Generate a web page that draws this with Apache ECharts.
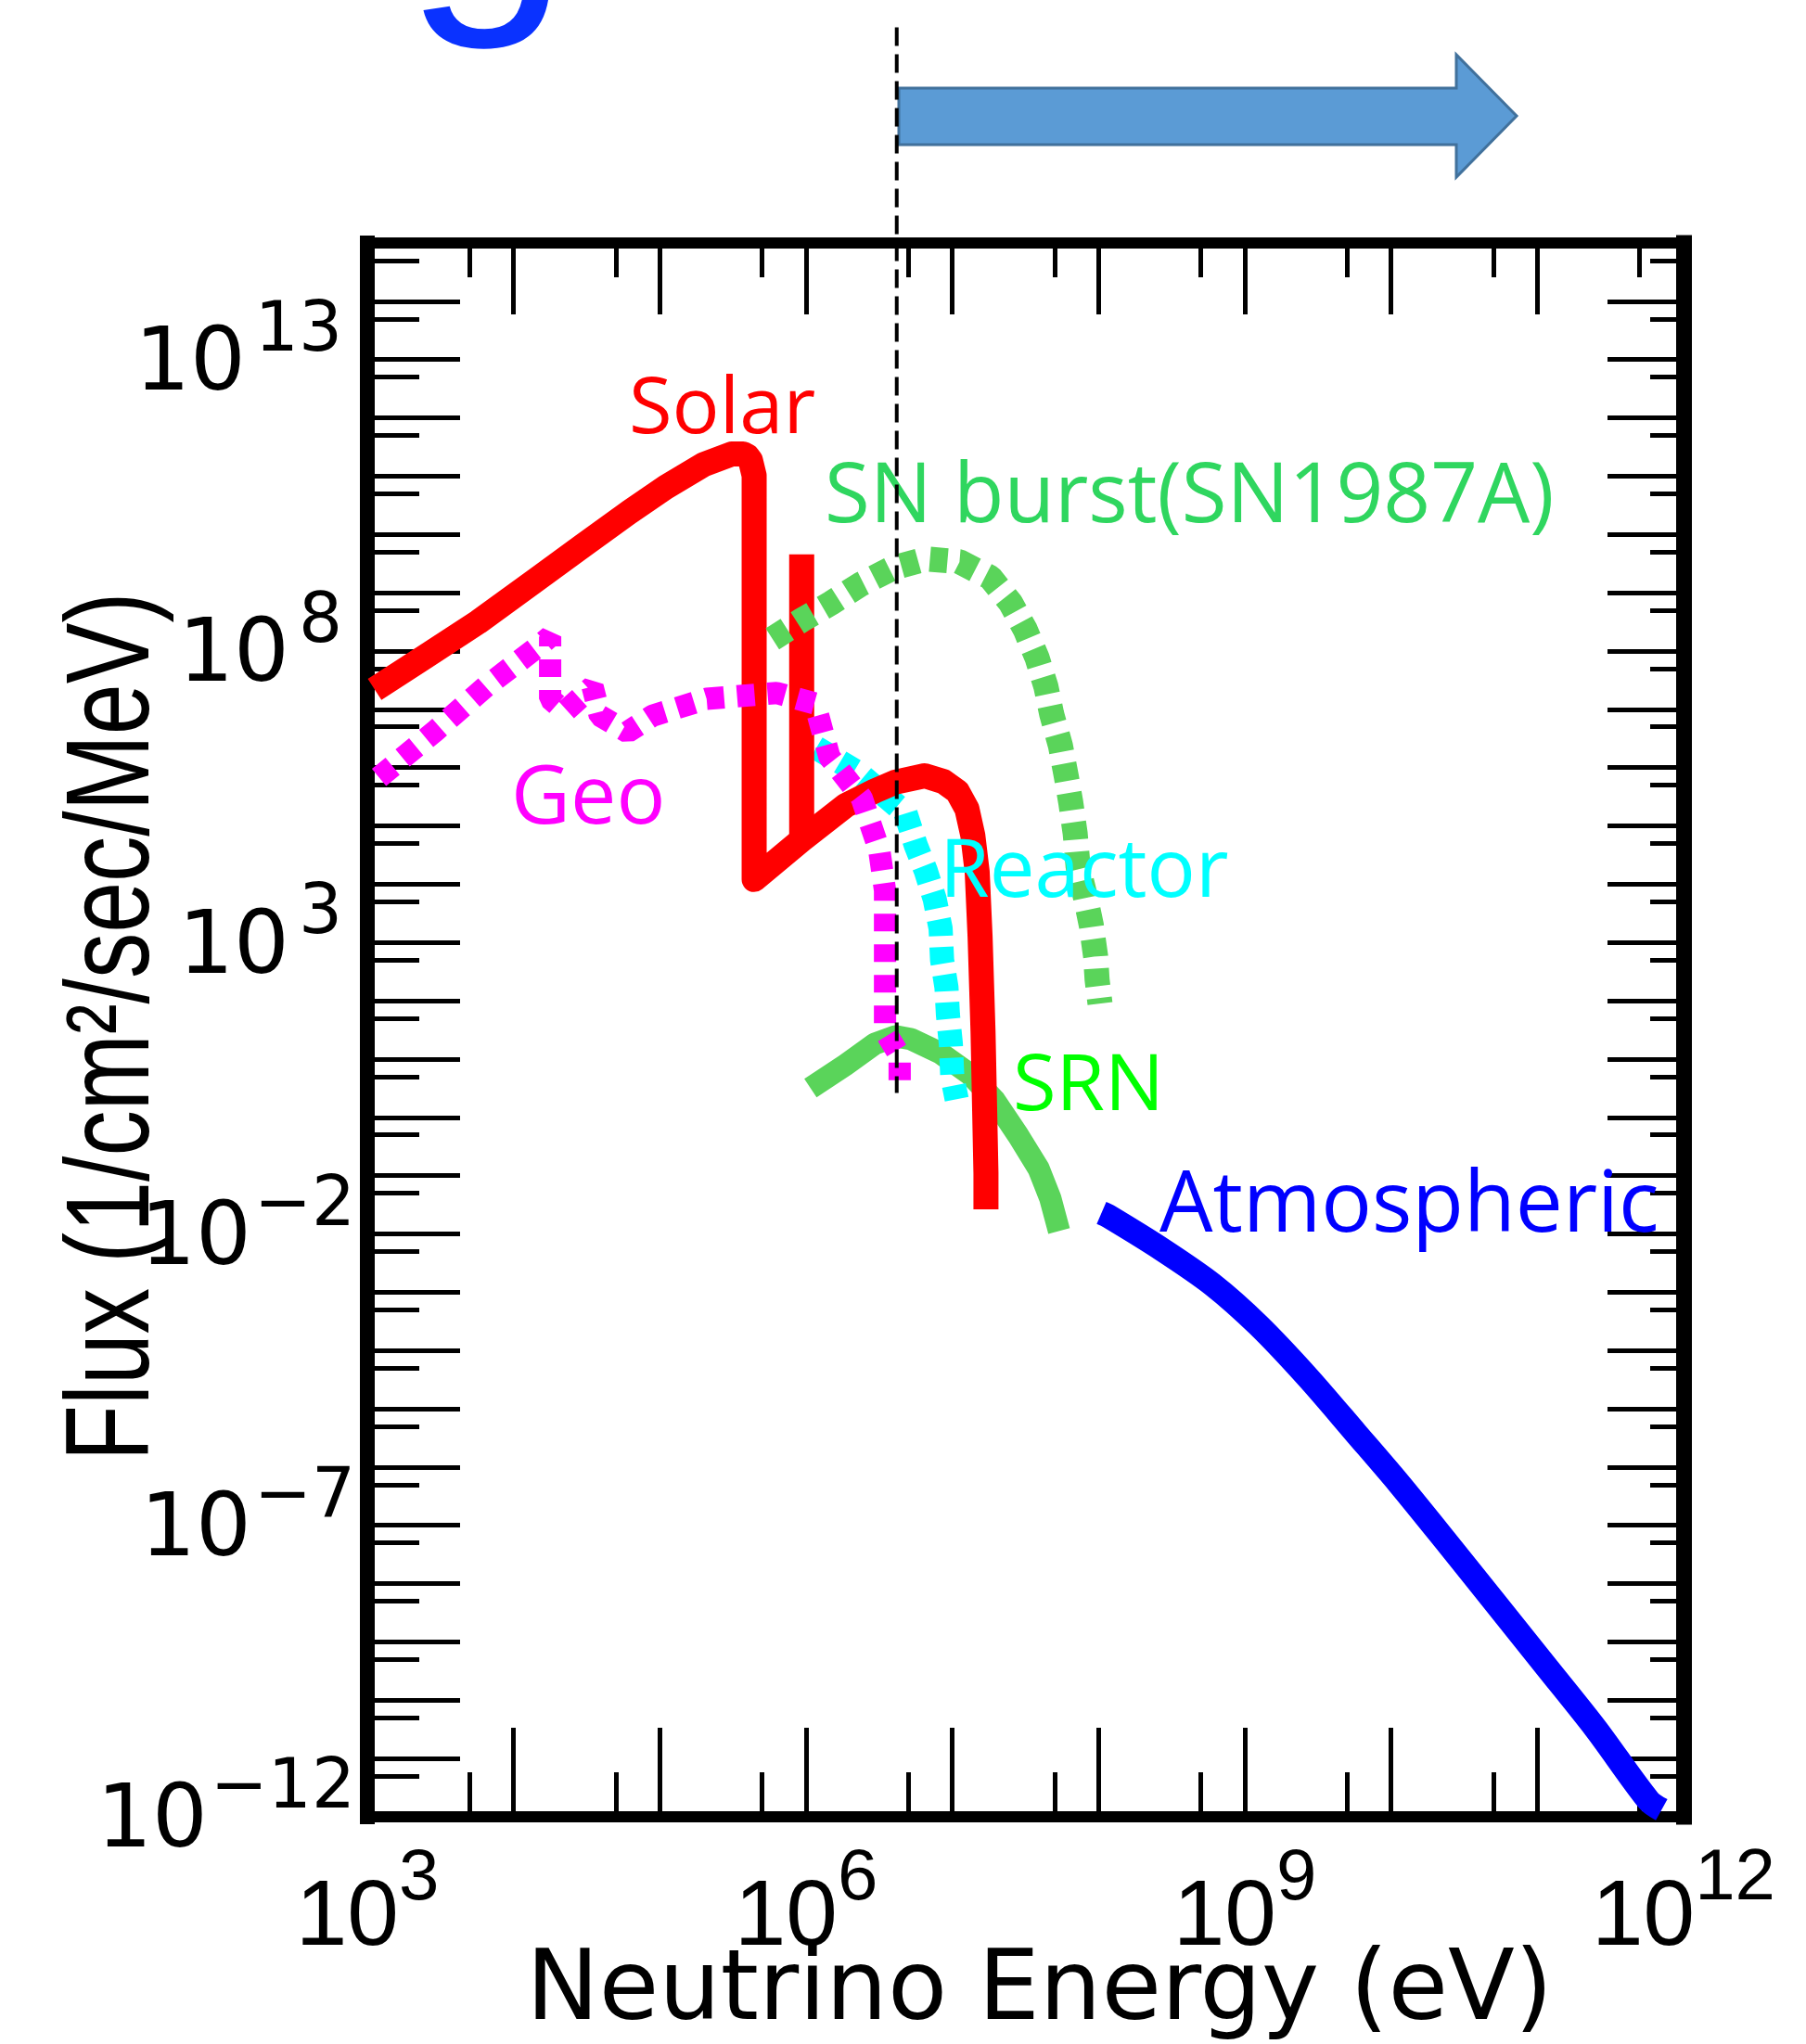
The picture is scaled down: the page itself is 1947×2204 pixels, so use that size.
<!DOCTYPE html>
<html>
<head>
<meta charset="utf-8">
<title>Neutrino flux vs energy</title>
<script src="https://cdn.jsdelivr.net/npm/echarts@6.0.0/dist/echarts.min.js"></script>
<style>
  html, body { margin: 0; padding: 0; background: #fff; }
  #chart { width: 1947px; height: 2204px; }
</style>
</head>
<body>
<div id="chart"></div>
<script>
// every value is a log10: energy in eV, flux in 1/cm2/sec/MeV
var solarE = [3.05, 3.40, 3.76, 4.16, 4.47, 4.79, 5.04, 5.30, 5.49, 5.57, 5.60, 5.62, 5.645, 5.645, 5.97, 6.27, 6.47, 6.61, 6.81, 6.94, 7.035, 7.10, 7.14, 7.17, 7.19, 7.21, 7.23, 7.23];
var solarF = [7.34, 7.91, 8.50, 9.23, 9.80, 10.38, 10.81, 11.20, 11.38, 11.38, 11.34, 11.27, 11.01, 4.08, 4.76, 5.35, 5.60, 5.75, 5.86, 5.76, 5.59, 5.29, 4.84, 4.21, 3.09, 1.47, -0.96, -1.58];
var pepE = [5.97, 5.97];
var pepF = [9.66, 4.76];
var geoE = [3.08, 3.47, 3.81, 4.18, 4.25, 4.25, 4.35, 4.54, 4.59, 4.78, 4.95, 5.32, 5.80, 6.06, 6.16, 6.38, 6.50, 6.54, 6.54, 6.64, 6.64];
var geoF = [5.83, 6.64, 7.39, 8.10, 8.25, 7.18, 6.96, 7.39, 6.89, 6.61, 6.89, 7.18, 7.28, 7.10, 6.18, 5.48, 4.59, 3.89, 1.47, 1.06, 0.42];
var reactorE = [6.07, 6.35, 6.68, 6.75, 6.82, 6.88, 6.92, 6.93, 6.96, 6.97, 6.99, 7.00, 7.03];
var reactorF = [6.34, 5.92, 5.22, 4.67, 4.22, 3.74, 3.24, 2.70, 2.23, 1.76, 1.26, 0.69, 0.31];
var snE = [5.77, 5.97, 6.17, 6.37, 6.59, 6.82, 7.05, 7.26, 7.40, 7.50, 7.58, 7.64, 7.68, 7.74, 7.78, 7.81, 7.84, 7.86, 7.91, 7.95, 7.98, 7.99, 8.01];
var snF = [8.21, 8.53, 8.82, 9.14, 9.42, 9.58, 9.53, 9.26, 8.82, 8.36, 7.88, 7.39, 6.91, 6.37, 5.84, 5.40, 4.87, 4.30, 3.78, 3.30, 2.76, 2.36, 1.95];
var srnE = [6.03, 6.27, 6.47, 6.61, 6.72, 6.92, 7.12, 7.29, 7.45, 7.59, 7.67, 7.73];
var srnF = [0.50, 0.90, 1.26, 1.39, 1.34, 1.10, 0.74, 0.29, -0.31, -0.88, -1.39, -1.95];
var atmE = [8.02, 8.07, 8.43, 8.78, 9.09, 9.43, 9.76, 10.05, 10.39, 10.69, 11.06, 11.40, 11.76, 11.85];
var atmF = [-1.64, -1.70, -2.26, -2.87, -3.56, -4.46, -5.42, -6.27, -7.32, -8.26, -9.42, -10.49, -11.72, -11.88];
// dashed threshold marker
var cutE = [6.62, 6.62];
var cutF = [18.7, 0.42];

// axes
var xDecades = [3, 4, 5, 6, 7, 8, 9, 10, 11, 12];
var yDecades = [-12, -11, -10, -9, -8, -7, -6, -5, -4, -3, -2, -1, 0, 1, 2, 3, 4, 5, 6, 7, 8, 9, 10, 11, 12, 13, 14, 15];
var xLabelValues = [3, 6, 9, 12];
var yLabelValues = [13, 8, 3, -2, -7, -12];
// short ticks sit at 5 x 10^n
var xHalfTicks = xDecades.slice(0, -1).map(function (d) { return d + Math.log10(5); });
var yHalfTicks = yDecades.slice(0, -1).map(function (d) { return d + Math.log10(5); });

function pairs(xs, ys) {
    return xs.map(function (x, i) { return [x, ys[i]]; });
}

function curve(name, xs, ys, color, width, dash) {
    return {
        name: name,
        type: 'line',
        xAxisIndex: 0,
        yAxisIndex: 0,
        data: pairs(xs, ys),
        symbol: 'none',
        silent: true,
        lineStyle: { color: color, width: width, type: dash || 'solid', join: dash ? 'bevel' : 'round', cap: 'butt' }
    };
}

function powerX(v) {
    return '{b|10}{s|' + v + '}';
}

function powerY(v) {
    return v < 0 ? '{b|10}{sn|\u2212' + (-v) + '}' : '{b|10}{sp|' + v + '}';
}

// one frame side: line + ticks, labels switched off by default
function side(kind, position, ticks, tickLen, lineW) {
    return {
        type: 'value',
        min: kind === 'x' ? 3 : -12,
        max: kind === 'x' ? 12 : 15,
        position: position,
        axisLine: { show: lineW > 0, onZero: false, lineStyle: { color: '#000', width: lineW, cap: 'square' } },
        axisTick: { show: true, inside: true, length: tickLen, customValues: ticks, lineStyle: { color: '#000', width: 5 } },
        axisLabel: { show: false },
        splitLine: { show: false }
    };
}

var xBottom = side('x', 'bottom', xDecades, 96, 12);
xBottom.axisLabel = {
    show: true,
    customValues: xLabelValues,
    margin: 28,
    formatter: powerX,
    rich: {
        b: { fontFamily: 'Liberation Sans', fontSize: 100, lineHeight: 164, color: '#000' },
        s: { fontFamily: 'Liberation Sans', fontSize: 78, lineHeight: 78, verticalAlign: 'top', color: '#000' }
    }
};
xBottom.name = 'Neutrino Energy (eV)';
xBottom.nameLocation = 'middle';
xBottom.nameGap = 138;
xBottom.nameMoveOverlap = false;
xBottom.nameTextStyle = { fontFamily: 'DejaVu Sans', fontSize: 105, color: '#000', padding: [0, 0, 0, 30] };

var yLeft = side('y', 'left', yDecades, 100, 16);
yLeft.axisLabel = {
    show: true,
    customValues: yLabelValues,
    margin: 13,
    padding: [16, 0, 0, 0],
    formatter: powerY,
    rich: {
        b: { fontFamily: 'DejaVu Sans', fontSize: 94, lineHeight: 148, color: '#000' },
        sp: { fontFamily: 'DejaVu Sans', fontSize: 74, lineHeight: 74, verticalAlign: 'top', padding: [0, 14, 0, 10], color: '#000' },
        sn: { fontFamily: 'DejaVu Sans', fontSize: 74, lineHeight: 74, verticalAlign: 'top', padding: [0, 0, 0, 3], color: '#000' }
    }
};

function note(text, x, y, color, size) {
    return {
        type: 'text', x: x, y: y, z: 100, silent: true,
        style: { text: text, fill: color, fontFamily: 'Open Sans', fontSize: size, align: 'left', verticalAlign: 'middle' }
    };
}

var chart = echarts.init(document.getElementById('chart'));
chart.setOption({
    animation: false,
    backgroundColor: '#fff',
    // fixed frame: the axis title is allowed to run off the bottom edge
    grid: { left: 396, top: 262, width: 1419, height: 1697, containLabel: false, outerBoundsMode: 'none' },
    xAxis: [
        xBottom,
        side('x', 'bottom', xHalfTicks, 48, 0),
        side('x', 'top', xDecades, 77, 12),
        side('x', 'top', xHalfTicks, 37, 0)
    ],
    yAxis: [
        yLeft,
        side('y', 'left', yHalfTicks, 56, 0),
        side('y', 'right', yDecades, 82, 17),
        side('y', 'right', yHalfTicks, 36, 0)
    ],
    series: [
        curve('SRN', srnE, srnF, '#5ad45a', 24),
        curve('Reactor', reactorE, reactorF, '#00ffff', 26, [18, 12]),
        curve('Solar', solarE, solarF, '#ff0000', 27),
        curve('Solar pep', pepE, pepF, '#ff0000', 27),
        curve('Geo', geoE, geoF, '#ff00ff', 24, [19, 14]),
        curve('SN burst', snE, snF, '#5ad45a', 27, [19, 13]),
        Object.assign(curve('Atmospheric', atmE, atmF, '#0000ff', 26), { smooth: 0.3 }),
        Object.assign(curve('threshold', cutE, cutF, '#000', 4, [20, 9]), { clip: false, z: 200 })
    ],
    graphic: [
        // bottom of a big blue letter cut by the top edge
        { type: 'text', x: 436, y: -102, z: 100, silent: true,
          style: { text: 'g', fill: '#0a32ff', fontFamily: 'Liberation Sans', fontSize: 320, align: 'left', verticalAlign: 'middle' } },
        { type: 'polygon', z: 100, silent: true,
          shape: { points: [[969, 95], [1570, 95], [1570, 59], [1635, 125], [1570, 191], [1570, 156], [969, 156]] },
          style: { fill: '#5b9bd5', stroke: '#41719c', lineWidth: 3 } },
        { type: 'text', x: 125, y: 1107, rotation: Math.PI / 2, scaleX: 0.77, z: 100, silent: true,
          style: { text: 'Flux (1/cm\u00b2/sec/MeV)', fill: '#000', fontFamily: 'Liberation Sans', fontSize: 128, align: 'center', verticalAlign: 'middle' } },
        note('Solar', 678, 443, '#ff0000', 85),
        note('SN burst(SN1987A)', 889, 538, '#2fd65f', 89),
        note('Geo', 551, 863, '#ff00ff', 88),
        note('Reactor', 1013, 942, '#00ffff', 87),
        note('SRN', 1092, 1173, '#00ff00', 85),
        note('Atmospheric', 1250, 1302, '#0000ff', 91)
    ]
});
</script>
</body>
</html>
